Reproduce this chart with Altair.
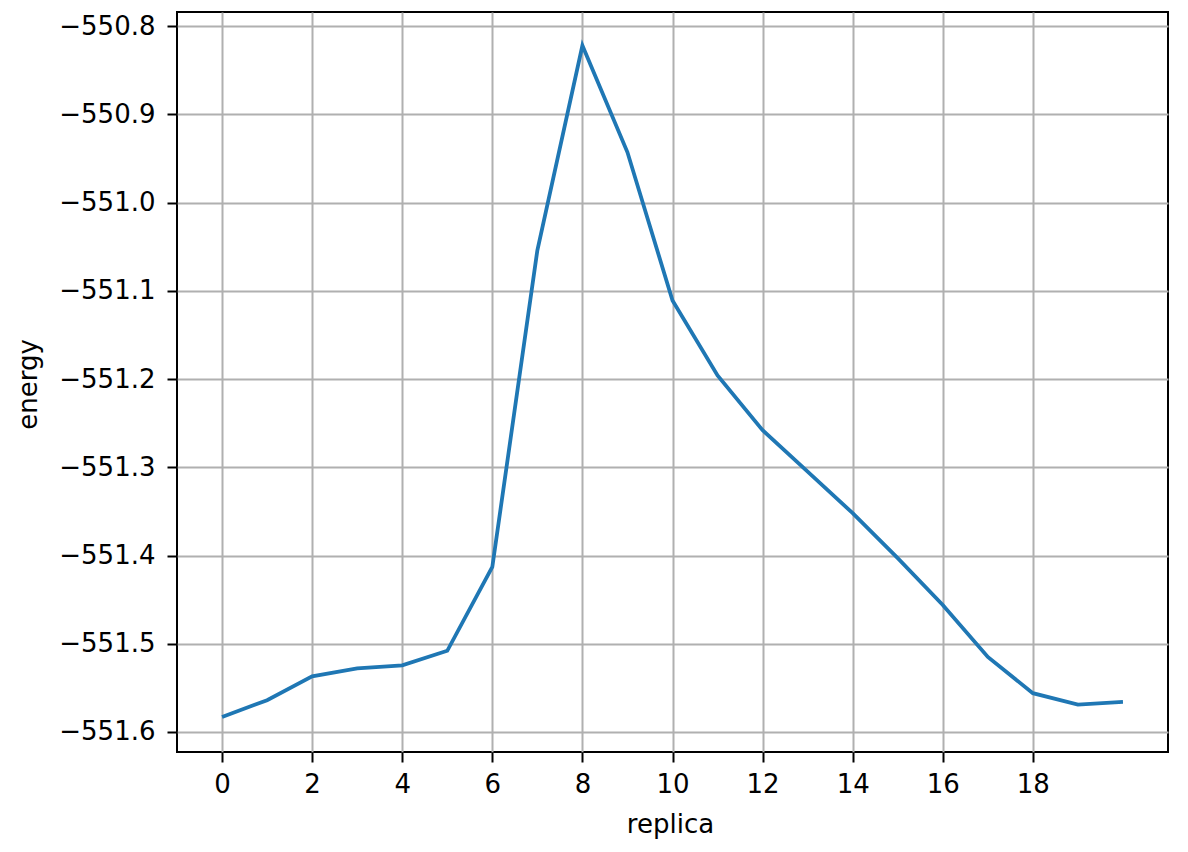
import altair as alt
import pandas as pd

replica = list(range(21))
energy = [-551.583, -551.564, -551.537, -551.528, -551.5245, -551.508, -551.413,
          -551.054, -550.822, -550.943, -551.111, -551.196, -551.258, -551.305,
          -551.352, -551.403, -551.456, -551.515, -551.556, -551.569, -551.566]

x_ticks = [0, 2, 4, 6, 8, 10, 12, 14, 16, 18]
y_ticks = [-550.8, -550.9, -551.0, -551.1, -551.2, -551.3, -551.4, -551.5, -551.6]

df = pd.DataFrame({"replica": replica, "energy": energy})

FONT = "DejaVu Sans"
FS = 26

chart = alt.Chart(df).mark_line(color="#1f77b4", strokeWidth=3.8).encode(
    x=alt.X("replica:Q",
            scale=alt.Scale(domain=[-1, 21], nice=False, zero=False),
            axis=alt.Axis(values=x_ticks, format="d", title="replica",
                          grid=True, gridColor="#b0b0b0", gridWidth=2,
                          domain=False, ticks=True, tickColor="black",
                          tickWidth=2, tickSize=10, labelPadding=9,
                          labelFont=FONT, labelFontSize=FS, labelColor="black",
                          labelBaseline="top",
                          titleFont=FONT, titleFontSize=FS, titleColor="black",
                          titleFontWeight="normal", titleBaseline="alphabetic",
                          titleAlign="center", titleX=493, titleY=80)),
    y=alt.Y("energy:Q",
            scale=alt.Scale(domain=[-551.6227, -550.784], nice=False, zero=False),
            axis=alt.Axis(values=y_ticks, format=".1f", title="energy",
                          grid=True, gridColor="#b0b0b0", gridWidth=2,
                          domain=False, ticks=True, tickColor="black",
                          tickWidth=2, tickSize=10, labelPadding=12,
                          labelFont=FONT, labelFontSize=FS, labelColor="black",
                          labelBaseline="middle",
                          titleFont=FONT, titleFontSize=FS, titleColor="black",
                          titleFontWeight="normal", titleBaseline="alphabetic",
                          titleAlign="center", titleAngle=270,
                          titleX=-141, titleY=372)),
).properties(
    width=991,
    height=740,
    autosize=alt.AutoSizeParams(type="none"),
    padding={"left": 169, "top": 4, "right": 12, "bottom": 96},
    background="white",
).configure_view(stroke="black", strokeWidth=2)

chart.save("out.html", embed_options={"renderer": "svg", "actions": False})
